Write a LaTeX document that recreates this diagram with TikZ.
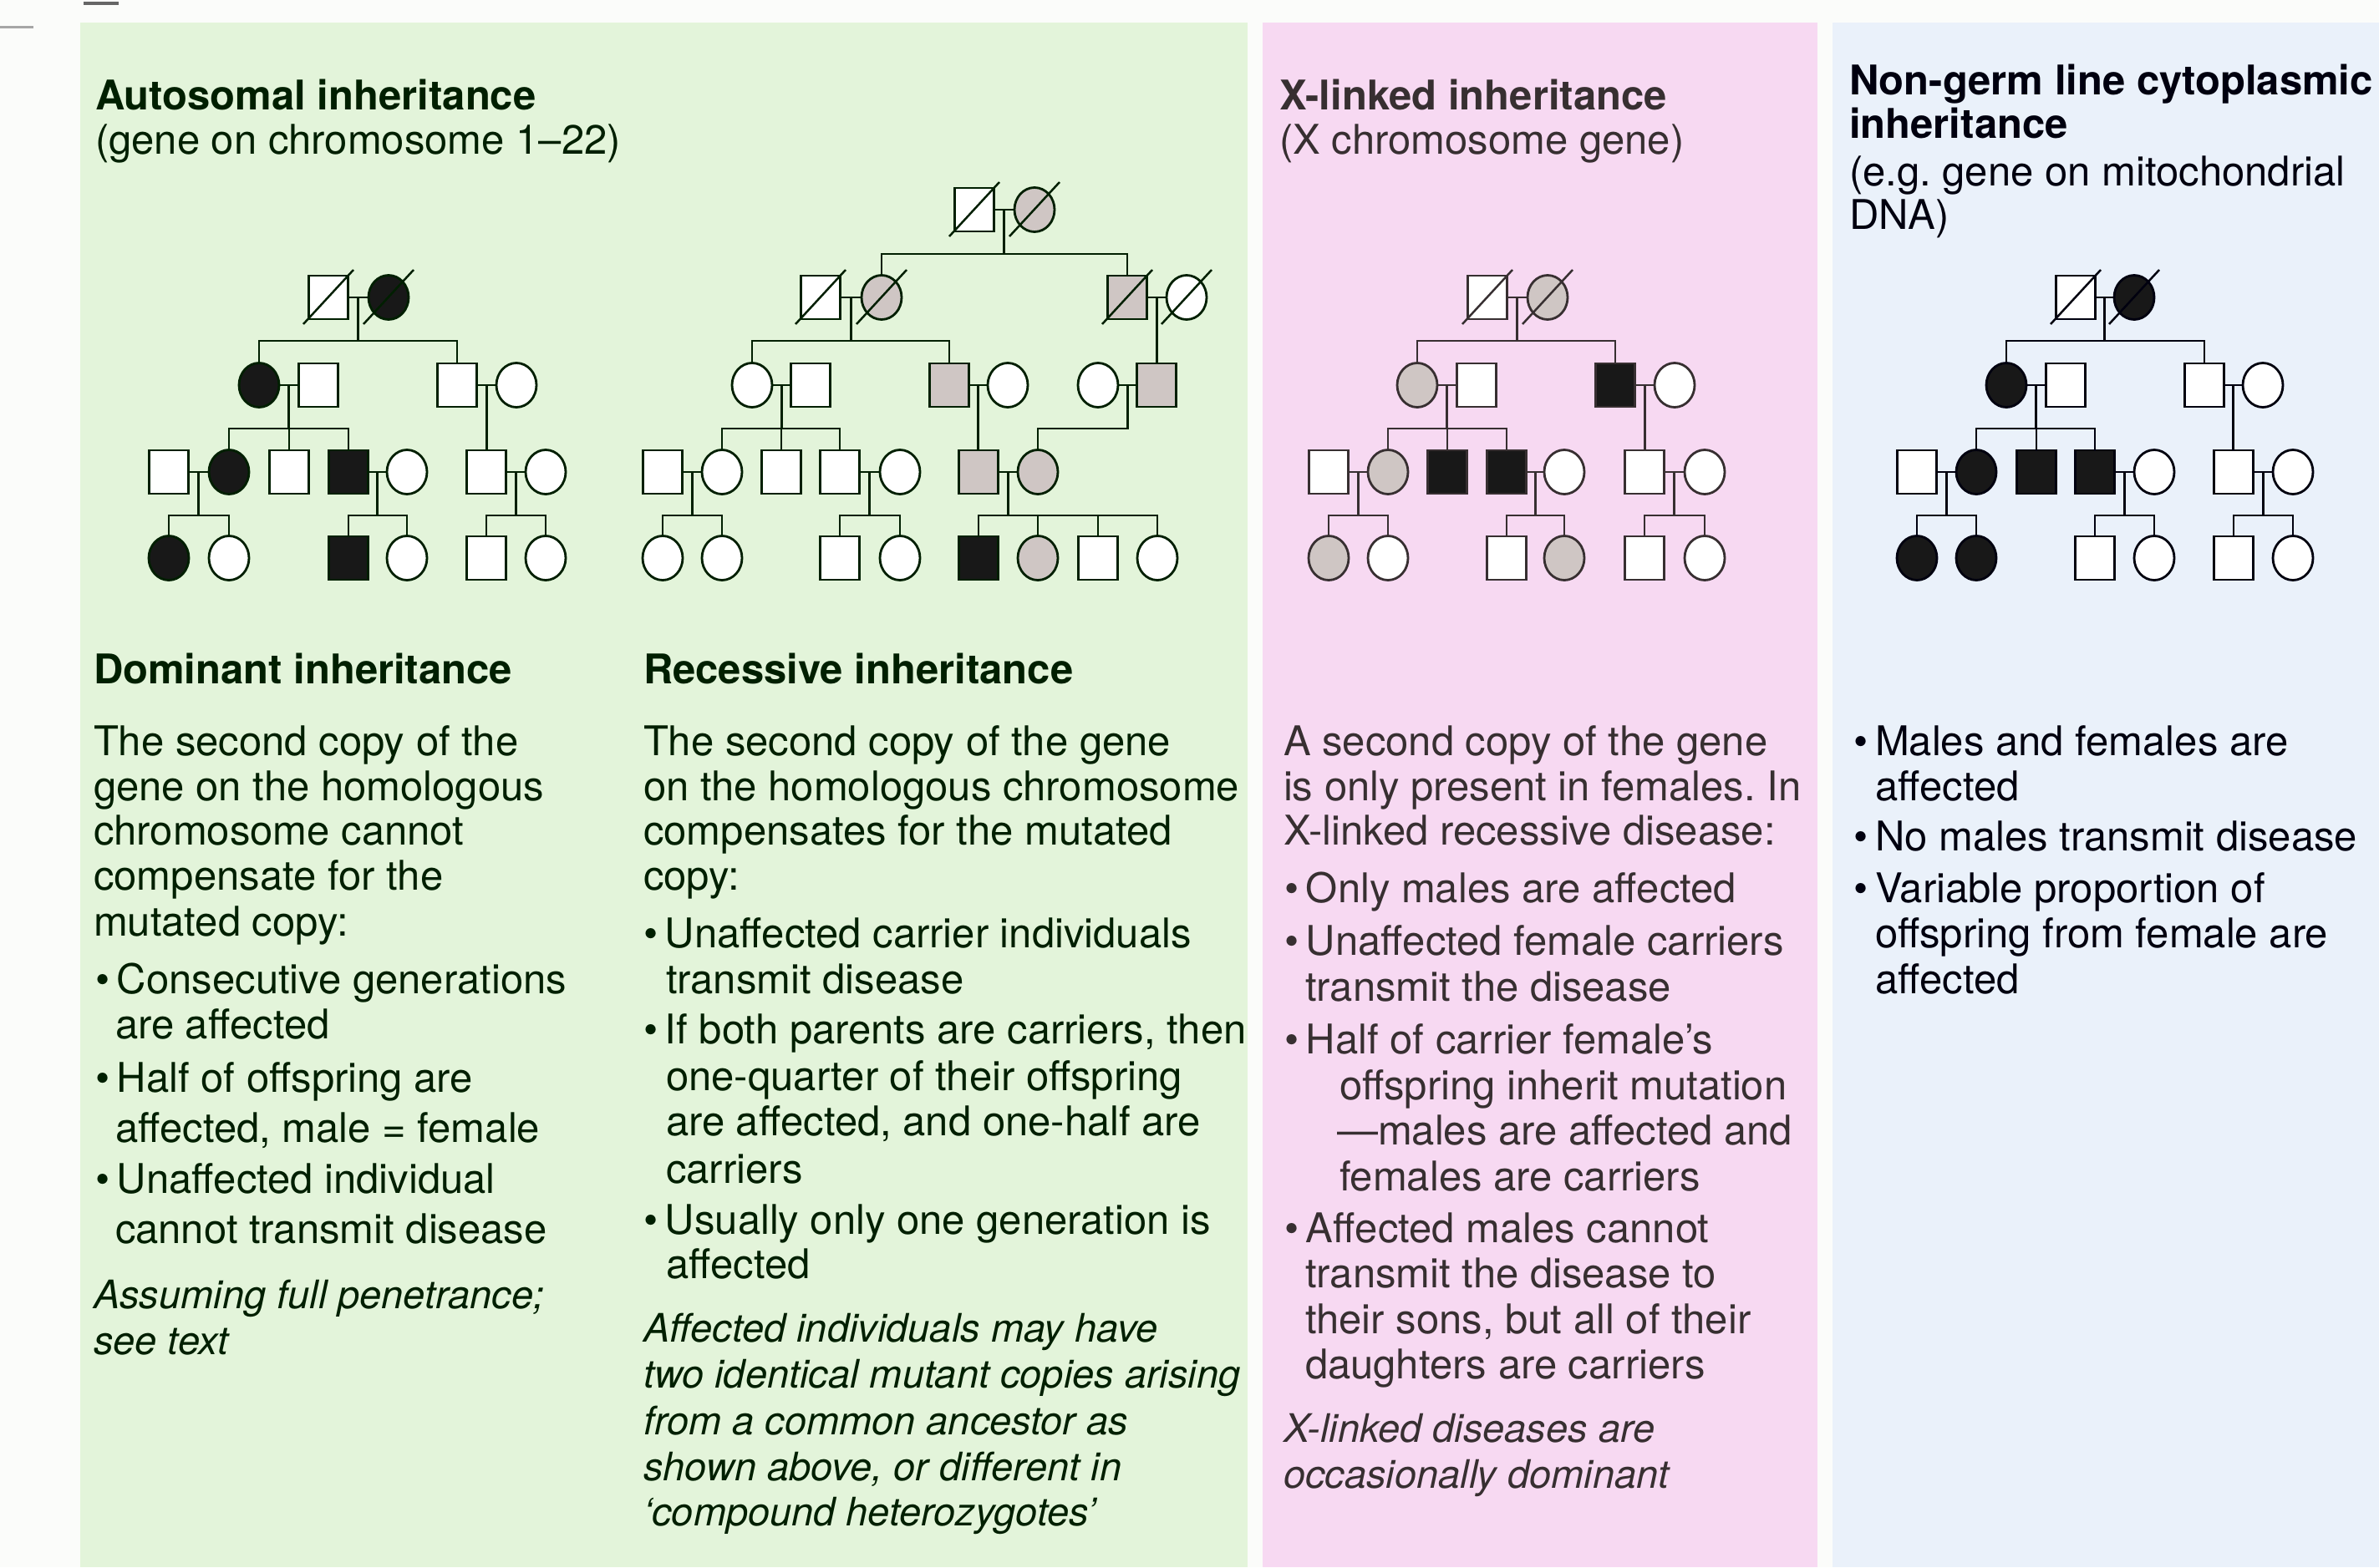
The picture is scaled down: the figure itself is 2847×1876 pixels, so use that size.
\documentclass[tikz,border=0pt]{standalone}
\usepackage{fontspec}
\setmainfont{TeX Gyre Heros}
\usetikzlibrary{shapes.geometric,calc}
\frenchspacing

\definecolor{pagebg}{HTML}{FBFCFA}
\definecolor{greenbg}{HTML}{E3F4DA}
\definecolor{pinkbg}{HTML}{F7D9F2}
\definecolor{bluebg}{HTML}{EAF1FA}
\definecolor{ink}{HTML}{222622}
\definecolor{carrier}{HTML}{CFC6C4}
\definecolor{affected}{HTML}{181818}

% one individual of a pedigree: [fill style]{shape style}{name}{x,y}
\newcommand\person[4][]{\node[#2,#1] (#3) at (#4) {};}
% deceased mark through an individual
\newcommand\dead[1]{\draw[slash] ($(#1)+(-30,32)$) -- ($(#1)+(30,-33)$);}
% mating line and its midpoint
\newcommand\couple[3]{\draw[link] (#1.east) -- (#2.west);
  \coordinate (#3) at ($(#1.east)!0.5!(#2.west)$);}
% descent line and sibship line from first to last child
\newcommand\sibs[4]{\draw[link] (#1) -- (#1 |- 0,#2);
  \draw[link] (#3.north) -- (#3.north |- 0,#2) -- (#4.north |- 0,#2) -- (#4.north);}
% drop from a sibship line to a middle child
\newcommand\drop[2]{\draw[link] (#1.north) -- (#1.north |- 0,#2);}
% only child straight below the couple
\newcommand\only[2]{\draw[link] (#1) -- (#1 |- #2.north);}
% one line of text set on its baseline
\newcommand\textline[4][txt]{\node[#1] (#2) at (#3) {#4};}
\newcommand\bul{\makebox[26pt][l]{\textbullet}}

\begin{document}
\begin{tikzpicture}[x=1pt,y=-1pt,
  every node/.style={inner sep=0pt,outer sep=0pt},
  male/.style={rectangle,draw=ink,line width=2.8pt,fill=white,minimum width=47pt,minimum height=52pt},
  female/.style={ellipse,draw=ink,line width=2.8pt,fill=white,minimum width=48pt,minimum height=53pt},
  aff/.style={fill=affected},
  car/.style={fill=carrier},
  link/.style={draw=ink,line width=2.8pt},
  slash/.style={draw=ink,line width=2.5pt},
  txt/.style={anchor=base west,font=\fontsize{49}{54}\selectfont,text=ink},
  head/.style={txt,font=\fontsize{49}{54}\selectfont\bfseries},
  note/.style={txt,font=\fontsize{47}{54}\selectfont\itshape},
]
\useasboundingbox (0,0) rectangle (2847,1876);
\fill[pagebg] (0,0) rectangle (2847,1876);
\fill[greenbg] (96,27) rectangle (1493,1876);
\fill[pinkbg] (1511,27) rectangle (2175,1876);
\fill[bluebg] (2193,27) rectangle (2847,1876);
\draw[line width=3pt,black!35] (0,33) -- (40,33);
\draw[line width=4pt,black!60] (100,4) -- (142,4);

% ---------------- autosomal panel ----------------
\begin{scope}
\colorlet{ink}{black!80!green!60!black}
\textline[head]{autoT}{114,131}{Autosomal inheritance}
\textline{autoS}{114,184}{(gene on chromosome 1–22)}

% dominant pedigree
\person{male}{A1m}{393,356} \person[aff]{female}{A1f}{465,356}
\person[aff]{female}{A2a}{310,461} \person{male}{A2b}{381,461}
\person{male}{A2c}{547,461} \person{female}{A2d}{618,461}
\person{male}{A3a}{202,565} \person[aff]{female}{A3b}{274,565}
\person{male}{A3c}{346,565} \person[aff]{male}{A3d}{417,565}
\person{female}{A3e}{487,565} \person{male}{A3f}{582,565} \person{female}{A3g}{653,565}
\person[aff]{female}{A4a}{202,668} \person{female}{A4b}{274,668}
\person[aff]{male}{A4c}{417,668} \person{female}{A4d}{487,668}
\person{male}{A4e}{582,668} \person{female}{A4f}{653,668}
\couple{A1m}{A1f}{Am1} \sibs{Am1}{408}{A2a}{A2c}
\couple{A2a}{A2b}{Am2} \sibs{Am2}{513}{A3b}{A3d} \drop{A3c}{513}
\couple{A2c}{A2d}{Am3} \only{Am3}{A3f}
\couple{A3a}{A3b}{Am4} \sibs{Am4}{617}{A4a}{A4b}
\couple{A3d}{A3e}{Am5} \sibs{Am5}{617}{A4c}{A4d}
\couple{A3f}{A3g}{Am6} \sibs{Am6}{617}{A4e}{A4f}
\dead{A1m} \dead{A1f}

% recessive pedigree
\person{male}{R1m}{1166,251} \person[car]{female}{R1f}{1238,251}
\person{male}{R2a}{982,356} \person[car]{female}{R2b}{1055,356}
\person[car]{male}{R2c}{1349,356} \person{female}{R2d}{1420,356}
\person{female}{R3a}{900,461} \person{male}{R3b}{970,461}
\person[car]{male}{R3c}{1136,461} \person{female}{R3d}{1206,461}
\person{female}{R3e}{1314,461} \person[car]{male}{R3f}{1384,461}
\person{male}{R4a}{793,565} \person{female}{R4b}{864,565} \person{male}{R4c}{935,565}
\person{male}{R4d}{1005,565} \person{female}{R4e}{1077,565}
\person[car]{male}{R4f}{1171,565} \person[car]{female}{R4g}{1242,565}
\person{female}{R5a}{793,668} \person{female}{R5b}{864,668}
\person{male}{R5c}{1005,668} \person{female}{R5d}{1077,668}
\person[aff]{male}{R5e}{1171,668} \person[car]{female}{R5f}{1242,668}
\person{male}{R5g}{1314,668} \person{female}{R5h}{1385,668}
\couple{R1m}{R1f}{Rm1} \sibs{Rm1}{304}{R2b}{R2c}
\couple{R2a}{R2b}{Rm2} \sibs{Rm2}{408}{R3a}{R3c}
\couple{R2c}{R2d}{Rm3} \only{Rm3}{R3f}
\couple{R3a}{R3b}{Rm4} \sibs{Rm4}{513}{R4b}{R4d} \drop{R4c}{513}
\couple{R3c}{R3d}{Rm5} \only{Rm5}{R4f}
\couple{R3e}{R3f}{Rm6} \draw[link] (Rm6) -- (Rm6 |- 0,513) -| (R4g.north);
\couple{R4a}{R4b}{Rm7} \sibs{Rm7}{617}{R5a}{R5b}
\couple{R4d}{R4e}{Rm8} \sibs{Rm8}{617}{R5c}{R5d}
\couple{R4f}{R4g}{Rm9} \sibs{Rm9}{617}{R5e}{R5h} \drop{R5f}{617} \drop{R5g}{617}
\dead{R1m} \dead{R1f} \dead{R2a} \dead{R2b} \dead{R2c} \dead{R2d}

% dominant text
\textline[head]{domT}{112,818}{Dominant inheritance}
\textline{dom1}{112,904}{The second copy of the}
\textline{dom2}{112,958}{gene on the homologous}
\textline{dom3}{112,1011}{chromosome cannot}
\textline{dom4}{112,1065}{compensate for the}
\textline{dom5}{112,1120}{mutated copy:}
\textline{dom6}{114,1189}{\bul Consecutive generations}
\textline{dom7}{138,1243}{are affected}
\textline{dom8}{114,1307}{\bul Half of offspring are}
\textline{dom9}{138,1367}{affected, male = female}
\textline{dom10}{114,1428}{\bul Unaffected individual}
\textline{dom11}{138,1488}{cannot transmit disease}
\textline[note]{dom12}{112,1566}{Assuming full penetrance;}
\textline[note]{dom13}{112,1621}{see text}

% recessive text
\textline[head]{recT}{770,818}{Recessive inheritance}
\textline{rec1}{770,904}{The second copy of the gene}
\textline{rec2}{770,958}{on the homologous chromosome}
\textline{rec3}{770,1011}{compensates for the mutated}
\textline{rec4}{770,1065}{copy:}
\textline{rec5}{770,1134}{\bul Unaffected carrier individuals}
\textline{rec6}{797,1189}{transmit disease}
\textline{rec7}{770,1249}{\bul If both parents are carriers, then}
\textline{rec8}{797,1305}{one-quarter of their offspring}
\textline{rec9}{797,1359}{are affected, and one-half are}
\textline{rec10}{797,1416}{carriers}
\textline{rec11}{770,1477}{\bul Usually only one generation is}
\textline{rec12}{797,1530}{affected}
\textline[note]{rec13}{770,1606}{Affected individuals may have}
\textline[note]{rec14}{770,1661}{two identical mutant copies arising}
\textline[note]{rec15}{770,1717}{from a common ancestor as}
\textline[note]{rec16}{770,1772}{shown above, or different in}
\textline[note]{rec17}{770,1826}{`compound heterozygotes'}
\end{scope}

% ---------------- X-linked panel ----------------
\begin{scope}
\colorlet{ink}{black!85!magenta!60!black}
\textline[head]{xT}{1531,131}{X-linked inheritance}
\textline{xS}{1531,184}{(X chromosome gene)}

\person{male}{X1m}{1780,356} \person[car]{female}{X1f}{1852,356}
\person[car]{female}{X2a}{1696,461} \person{male}{X2b}{1767,461}
\person[aff]{male}{X2c}{1933,461} \person{female}{X2d}{2004,461}
\person{male}{X3a}{1590,565} \person[car]{female}{X3b}{1661,565}
\person[aff]{male}{X3c}{1732,565} \person[aff]{male}{X3d}{1803,565}
\person{female}{X3e}{1872,565} \person{male}{X3f}{1968,565} \person{female}{X3g}{2040,565}
\person[car]{female}{X4a}{1590,668} \person{female}{X4b}{1661,668}
\person{male}{X4c}{1803,668} \person[car]{female}{X4d}{1872,668}
\person{male}{X4e}{1968,668} \person{female}{X4f}{2040,668}
\couple{X1m}{X1f}{Xm1} \sibs{Xm1}{408}{X2a}{X2c}
\couple{X2a}{X2b}{Xm2} \sibs{Xm2}{513}{X3b}{X3d} \drop{X3c}{513}
\couple{X2c}{X2d}{Xm3} \only{Xm3}{X3f}
\couple{X3a}{X3b}{Xm4} \sibs{Xm4}{617}{X4a}{X4b}
\couple{X3d}{X3e}{Xm5} \sibs{Xm5}{617}{X4c}{X4d}
\couple{X3f}{X3g}{Xm6} \sibs{Xm6}{617}{X4e}{X4f}
\dead{X1m} \dead{X1f}

\textline{x1}{1536,904}{A second copy of the gene}
\textline{x2}{1536,958}{is only present in females. In}
\textline{x3}{1536,1011}{X-linked recessive disease:}
\textline{x4}{1537,1080}{\bul Only males are affected}
\textline{x5}{1537,1143}{\bul Unaffected female carriers}
\textline{x6}{1562,1198}{transmit the disease}
\textline{x7}{1537,1261}{\bul Half of carrier female's}
\textline{x8}{1603,1316}{offspring inherit mutation}
\textline{x9}{1600,1370}{—males are affected and}
\textline{x10}{1603,1425}{females are carriers}
\textline{x11}{1537,1487}{\bul Affected males cannot}
\textline{x12}{1562,1541}{transmit the disease to}
\textline{x13}{1562,1596}{their sons, but all of their}
\textline{x14}{1562,1650}{daughters are carriers}
\textline[note]{x15}{1536,1726}{X-linked diseases are}
\textline[note]{x16}{1536,1781}{occasionally dominant}
\end{scope}

% ---------------- cytoplasmic panel ----------------
\begin{scope}
\colorlet{ink}{black!85!blue!40!black}
\textline[head]{nT1}{2213,113}{Non-germ line cytoplasmic}
\textline[head]{nT2}{2213,165}{inheritance}
\textline{nS1}{2213,222}{(e.g. gene on mitochondrial}
\textline{nS2}{2213,274}{DNA)}

\person{male}{N1m}{2484,356} \person[aff]{female}{N1f}{2554,356}
\person[aff]{female}{N2a}{2401,461} \person{male}{N2b}{2472,461}
\person{male}{N2c}{2638,461} \person{female}{N2d}{2708,461}
\person{male}{N3a}{2294,565} \person[aff]{female}{N3b}{2365,565}
\person[aff]{male}{N3c}{2437,565} \person[aff]{male}{N3d}{2507,565}
\person{female}{N3e}{2578,565} \person{male}{N3f}{2673,565} \person{female}{N3g}{2744,565}
\person[aff]{female}{N4a}{2294,668} \person[aff]{female}{N4b}{2365,668}
\person{male}{N4c}{2507,668} \person{female}{N4d}{2578,668}
\person{male}{N4e}{2673,668} \person{female}{N4f}{2744,668}
\couple{N1m}{N1f}{Nm1} \sibs{Nm1}{408}{N2a}{N2c}
\couple{N2a}{N2b}{Nm2} \sibs{Nm2}{513}{N3b}{N3d} \drop{N3c}{513}
\couple{N2c}{N2d}{Nm3} \only{Nm3}{N3f}
\couple{N3a}{N3b}{Nm4} \sibs{Nm4}{617}{N4a}{N4b}
\couple{N3d}{N3e}{Nm5} \sibs{Nm5}{617}{N4c}{N4d}
\couple{N3f}{N3g}{Nm6} \sibs{Nm6}{617}{N4e}{N4f}
\dead{N1m} \dead{N1f}

\textline{n1}{2218,904}{\bul Males and females are}
\textline{n2}{2244,958}{affected}
\textline{n3}{2218,1018}{\bul No males transmit disease}
\textline{n4}{2218,1080}{\bul Variable proportion of}
\textline{n5}{2244,1134}{offspring from female are}
\textline{n6}{2244,1189}{affected}
\end{scope}
\end{tikzpicture}
\end{document}
